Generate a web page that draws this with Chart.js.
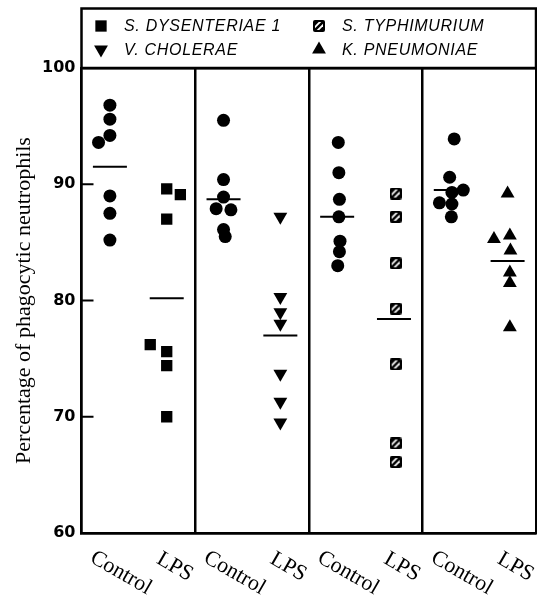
<!DOCTYPE html>
<html>
<head>
<meta charset="utf-8">
<script src="https://cdn.jsdelivr.net/npm/chart.js@4.4.1/dist/chart.umd.min.js"></script>
<style>
  html, body { margin: 0; padding: 0; background: #fff; overflow: hidden; }
  #wrap { width: 537px; height: 598px; position: relative; }
  #dotChart { display: block; }
</style>
</head>
<body>
<div id="wrap"><canvas id="dotChart"></canvas></div>
<script>
// groups along the x axis, two per infection panel
const groups = ['Control', 'LPS', 'Control', 'LPS', 'Control', 'LPS', 'Control', 'LPS'];
const infections = ['S. DYSENTERIAE 1', 'V. CHOLERAE', 'S. TYPHIMURIUM', 'K. PNEUMONIAE'];
const yTicks = [60, 70, 80, 90, 100];

// percentage of phagocytic neutrophils
const dysenteriaeControl = [96.8, 95.6, 94.2, 93.6, 89.0, 87.5, 85.2];
const dysenteriaeLps = [89.6, 89.1, 87.0, 76.2, 75.6, 74.4, 70.0];
const choleraeControl = [95.5, 90.4, 88.9, 87.9, 87.8, 86.1, 85.5];
const choleraeLps = [87.2, 80.3, 79.0, 78.0, 73.7, 71.3, 69.5];
const typhimuriumControl = [93.6, 91.0, 88.7, 87.2, 85.1, 84.2, 83.0];
const typhimuriumLps = [89.2, 87.2, 83.2, 79.3, 74.5, 67.7, 66.1];
const pneumoniaeControl = [93.9, 90.6, 89.5, 89.3, 88.4, 88.3, 87.2];
const pneumoniaeLps = [89.2, 85.6, 85.3, 84.3, 82.4, 81.5, 77.7];
const groupMeans = [91.5, 80.2, 88.7, 77.0, 87.2, 78.4, 89.5, 83.4];

// small sideways nudges (in group units) so tied dots sit next to each other
const nudge = [
  [0, 0, 0, -0.2, 0, 0, 0],
  [0, 0.24, 0, -0.29, 0, 0, 0],
  [0, 0, 0, -0.13, 0.13, 0, 0.03],
  [0, 0, 0, 0, 0, 0, 0],
  [0.02, 0.03, 0.04, 0.03, 0.05, 0.04, 0.01],
  [0.03, 0.03, 0.03, 0.03, 0.03, 0.03, 0.03],
  [0.06, -0.02, 0.22, 0.02, -0.2, 0.02, 0.01],
  [0, 0.04, -0.24, 0.05, 0.04, 0.04, 0.04]
];

function toPoints(values, group) {
  return values.map((v, i) => ({ x: group + nudge[group][i], y: v }));
}

// hatched square marker for S. typhimurium
function hatchedSquare() {
  const c = document.createElement('canvas');
  c.width = 12; c.height = 12;
  const g = c.getContext('2d');
  g.fillStyle = '#000';
  g.beginPath();
  g.roundRect(0, 0, 12, 12, 2);
  g.fill();
  g.save();
  g.beginPath();
  g.rect(2, 2, 8, 8);
  g.clip();
  g.strokeStyle = '#fff';
  g.lineWidth = 1.8;
  [-3, 3].forEach(k => {
    g.beginPath();
    g.moveTo(k, 12);
    g.lineTo(k + 12, 0);
    g.stroke();
  });
  g.restore();
  return c;
}
const hatch = hatchedSquare();

const black = '#000';
const clear = 'rgba(0,0,0,0)';

function markers(label, data, style, radius, rotation) {
  return {
    label: label,
    data: data,
    pointStyle: style,
    pointRadius: radius,
    pointRotation: rotation || 0,
    pointBackgroundColor: black,
    pointBorderColor: black,
    pointBorderWidth: 0,
    showLine: false
  };
}

const controls = [dysenteriaeControl, choleraeControl, typhimuriumControl, pneumoniaeControl]
  .flatMap((vals, p) => toPoints(vals, p * 2));

const datasets = [
  markers('Control', controls, 'circle', 6.5),
  markers(infections[0], toPoints(dysenteriaeLps, 1), 'rect', 8),
  markers(infections[1], toPoints(choleraeLps, 3), 'triangle', 8, 180),
  markers(infections[2], toPoints(typhimuriumLps, 5), hatch, 6),
  markers(infections[3], toPoints(pneumoniaeLps, 7), 'triangle', 8),
  {
    label: 'Mean',
    data: groupMeans.map((m, i) => ({ x: i, y: m })),
    pointStyle: 'line',
    pointRadius: 17,
    pointBorderColor: black,
    pointBorderWidth: 2,
    showLine: false
  }
];

// legend box, inward y ticks and slanted group labels
const decorations = {
  id: 'decorations',
  afterDraw(chart) {
    const ctx = chart.ctx;
    const area = chart.chartArea;
    const xs = chart.scales.x;
    const ys = chart.scales.y;
    ctx.save();
    ctx.strokeStyle = black;
    ctx.fillStyle = black;

    // frame around the legend
    ctx.lineWidth = 2.5;
    ctx.strokeRect(area.left, 8.5, area.right - area.left, area.top - 8.5);

    // tick marks pointing into the plot
    ctx.lineWidth = 2;
    yTicks.slice(1, -1).forEach(v => {
      const y = ys.getPixelForValue(v);
      ctx.beginPath();
      ctx.moveTo(area.left, y);
      ctx.lineTo(area.left + 12, y);
      ctx.stroke();
    });

    // legend entries in a 2 x 2 grid
    const order = [1, 3, 2, 4];
    order.forEach((d, k) => {
      const ds = chart.data.datasets[d];
      const col = k % 2, row = Math.floor(k / 2);
      const sx = area.left + 19.5 + col * 218;
      const sy = 26 + row * 23.5;
      Chart.helpers.drawPoint(ctx, {
        pointStyle: ds.pointStyle,
        radius: ds.pointRadius,
        rotation: ds.pointRotation,
        borderWidth: 0
      }, sx, sy);
      ctx.font = 'italic 16px "Liberation Sans"';
      ctx.letterSpacing = '0.7px';
      ctx.textAlign = 'left';
      ctx.textBaseline = 'middle';
      ctx.fillText(ds.label, sx + 23, sy + 1);
    });
    ctx.letterSpacing = '0px';

    // slanted Control / LPS labels
    ctx.font = '22px "Liberation Serif"';
    ctx.textAlign = 'center';
    ctx.textBaseline = 'middle';
    groups.forEach((g, i) => {
      const x = xs.getPixelForValue(i) + (g === 'Control' ? 11 : 8);
      const y = area.bottom + (g === 'Control' ? 40 : 34);
      ctx.save();
      ctx.translate(x, y);
      ctx.rotate(30 * Math.PI / 180);
      ctx.fillText(g, 0, 0);
      ctx.restore();
    });
    ctx.restore();
  }
};

new Chart(document.getElementById('dotChart'), {
  type: 'scatter',
  data: { datasets: datasets },
  options: {
    responsive: true,
    maintainAspectRatio: false,
    animation: false,
    events: [],
    layout: { autoPadding: false, padding: { top: 68, right: 1, left: 0, bottom: 0 } },
    plugins: { legend: { display: false }, tooltip: { enabled: false } },
    scales: {
      x: {
        type: 'linear',
        min: -0.5,
        max: 7.5,
        afterBuildTicks: scale => {
          scale.ticks = [-0.5, 1.5, 3.5, 5.5, 7.5].map(v => ({ value: v }));
        },
        afterFit: scale => { scale.height = 65; },
        ticks: { display: false },
        grid: { color: black, lineWidth: 2.5, drawTicks: false },
        border: { color: black, width: 2.5 }
      },
      y: {
        min: yTicks[0],
        max: yTicks[yTicks.length - 1],
        afterBuildTicks: scale => {
          scale.ticks = yTicks.map(v => ({ value: v }));
        },
        afterFit: scale => { scale.width = 81.5; },
        ticks: {
          color: black,
          padding: 6,
          font: { family: '"DejaVu Sans"', size: 16, weight: '600' }
        },
        grid: {
          drawTicks: false,
          lineWidth: 2.5,
          color: c => (c.tick && (c.tick.value === 60 || c.tick.value === 100)) ? black : clear
        },
        border: { color: black, width: 2.5 },
        title: {
          display: true,
          text: 'Percentage of phagocytic neutrophils',
          color: black,
          font: { family: '"Liberation Serif"', size: 22 },
          padding: { top: 11, bottom: 0 }
        }
      }
    }
  },
  plugins: [decorations]
});
</script>
</body>
</html>
